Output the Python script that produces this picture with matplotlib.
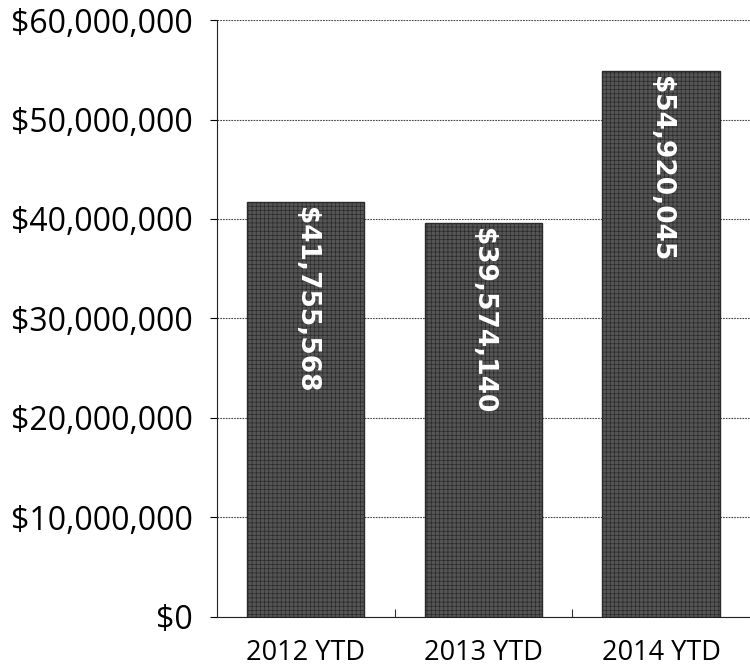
import matplotlib.pyplot as plt
from matplotlib.ticker import FuncFormatter, MultipleLocator

# year-to-date totals
categories = ["2012 YTD", "2013 YTD", "2014 YTD"]
totals = [41755568, 39574140, 54920045]

plt.rcParams['font.family'] = ['Open Sans', 'DejaVu Sans']
plt.rcParams['hatch.color'] = '#808080'
plt.rcParams['hatch.linewidth'] = 0.5

fig = plt.figure(figsize=(7.5, 6.67), dpi=100)
ax = fig.add_axes([0.289, 0.075, 0.711, 0.895])

x = range(len(categories))
ax.bar(x, totals, width=0.66, color='#555555', edgecolor='#2a2a2a',
       linewidth=1.0, hatch='++++', zorder=3)

# values written down the bars, white on grey
for xi, v in zip(x, totals):
    ax.text(xi, v - 500000, "${:,}".format(v), rotation=-90, ha='center',
            va='top', color='white', fontsize=19, fontweight='bold',
            family='DejaVu Sans', zorder=4)

ax.set_xlim(-0.5, 2.5)
ax.set_ylim(0, 60000000)
ax.yaxis.set_major_locator(MultipleLocator(10000000))
ax.yaxis.set_major_formatter(FuncFormatter(lambda v, p: "${:,.0f}".format(v)))
ax.set_xticks([0.5, 1.5])
ax.set_xticklabels([])
ax.tick_params(axis='x', length=6, width=0.8, direction='in', color='#333333')
ax.tick_params(axis='y', length=5, width=0.8, labelsize=23, pad=12)
for xi, name in zip(x, categories):
    ax.text(xi, -3600000, name, ha='center', va='center', fontsize=19.5)

ax.grid(axis='y', linestyle=(0, (1.5, 1)), color='#444444', linewidth=0.8, zorder=0)
ax.spines['top'].set_visible(False)
ax.spines['right'].set_visible(False)
ax.spines['left'].set_color('#222222')
ax.spines['bottom'].set_color('#222222')

fig.savefig("out.png", dpi=100)
